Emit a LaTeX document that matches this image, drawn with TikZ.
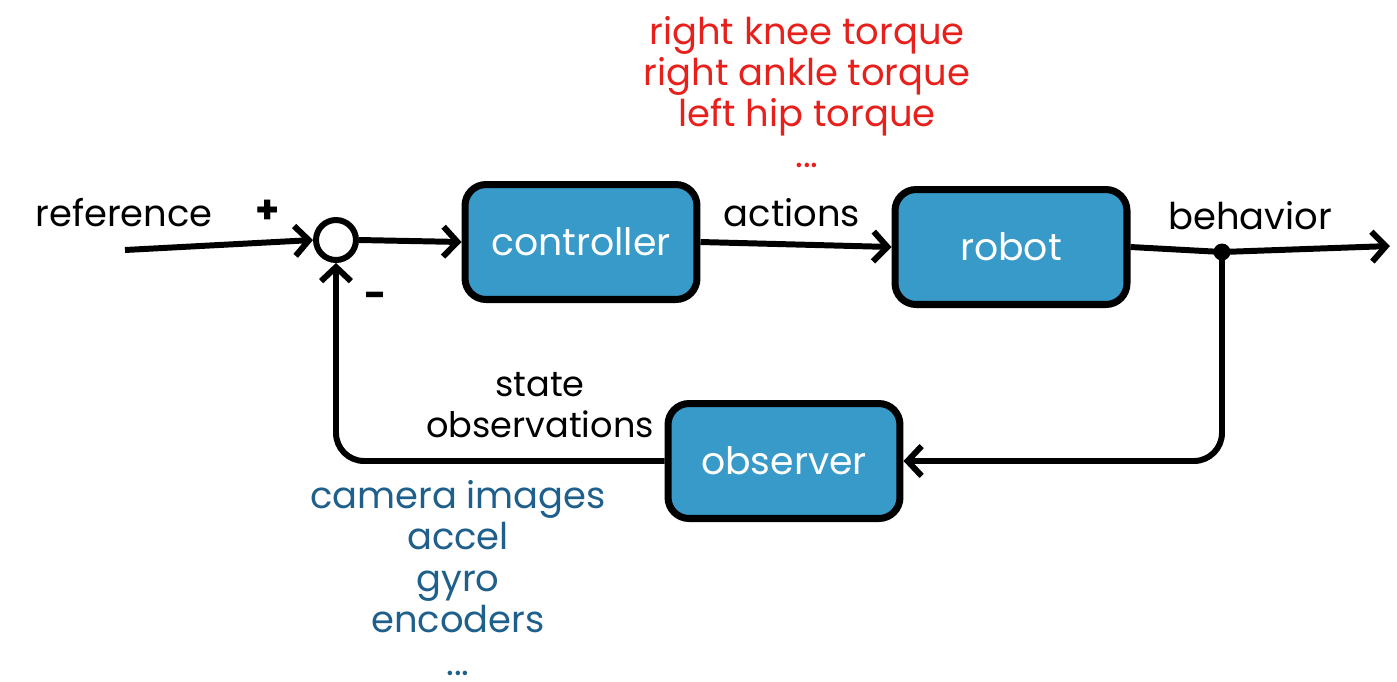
\documentclass[tikz,border=0pt]{standalone}
\usepackage{fontspec}
\setmainfont{Poppins}
\usetikzlibrary{arrows.meta,positioning}

\definecolor{boxblue}{HTML}{389AC9}
\definecolor{obsblue}{HTML}{1F5F8B}
\definecolor{actred}{HTML}{E8201C}

\tikzset{
  block/.style={draw,line width=4pt,fill=boxblue,rounded corners=12pt,
    minimum width=4.64cm,minimum height=2.3cm,text=white,font=\fontsize{21.5}{24}\selectfont},
  sumnode/.style={draw,circle,line width=3.4pt,minimum size=0.8cm,inner sep=0pt},
  wire/.style={line width=3.4pt,-{Straight Barb[length=8pt,width=17pt,line width=3.4pt]}},
  lbl/.style={font=\fontsize{21}{23.4}\selectfont,align=center,inner sep=0pt}
}

\begin{document}
\begin{tikzpicture}[x=0.02cm,y=-0.02cm]
  \useasboundingbox (0,0) rectangle (1397,681);
  % blocks
  \node[sumnode] (sum) at (336,240) {};
  \node[block] (ctrl) at (581,242) {controller};
  \node[block] (robot) at (1011,247) {robot};
  \node[block] (obs) at (784,461) {observer};
  \coordinate (refin) at (125,250);
  \coordinate (tap) at (1222,252);
  \coordinate (out) at (1390,246);
  % signals
  \draw[wire] (refin) -- (sum.west);
  \draw[wire] (sum.east) -- (ctrl.west);
  \draw[wire] (ctrl.east) -- (robot.west);
  \draw[wire] (robot.east) -- (tap) -- (out);
  \draw[wire,rounded corners=16pt] (tap) |- (obs.east);
  \draw[wire,rounded corners=16pt] (obs.west) -| (sum.south);
  \fill (tap) circle (0.17cm);
  % texts
  \node[lbl] at (124,213) {reference};
  \node[lbl,font=\fontsize{22}{24}\bfseries] at (268,212) {+};
  \node[lbl,font=\fontsize{22}{24}\bfseries] at (376,300) {-};
  \node[lbl] at (792,213) {actions};
  \node[lbl] at (1250,216) {behavior};
  \node[lbl,font=\fontsize{20}{23.4}\selectfont] at (540,405) {state\\observations};
  \node[lbl,text=actred] at (807,92) {right knee torque\\right ankle torque\\left hip torque\\...};
  \node[lbl,text=obsblue] at (458,578) {camera images\\accel\\gyro\\encoders\\[1pt]...};
\end{tikzpicture}
\end{document}
